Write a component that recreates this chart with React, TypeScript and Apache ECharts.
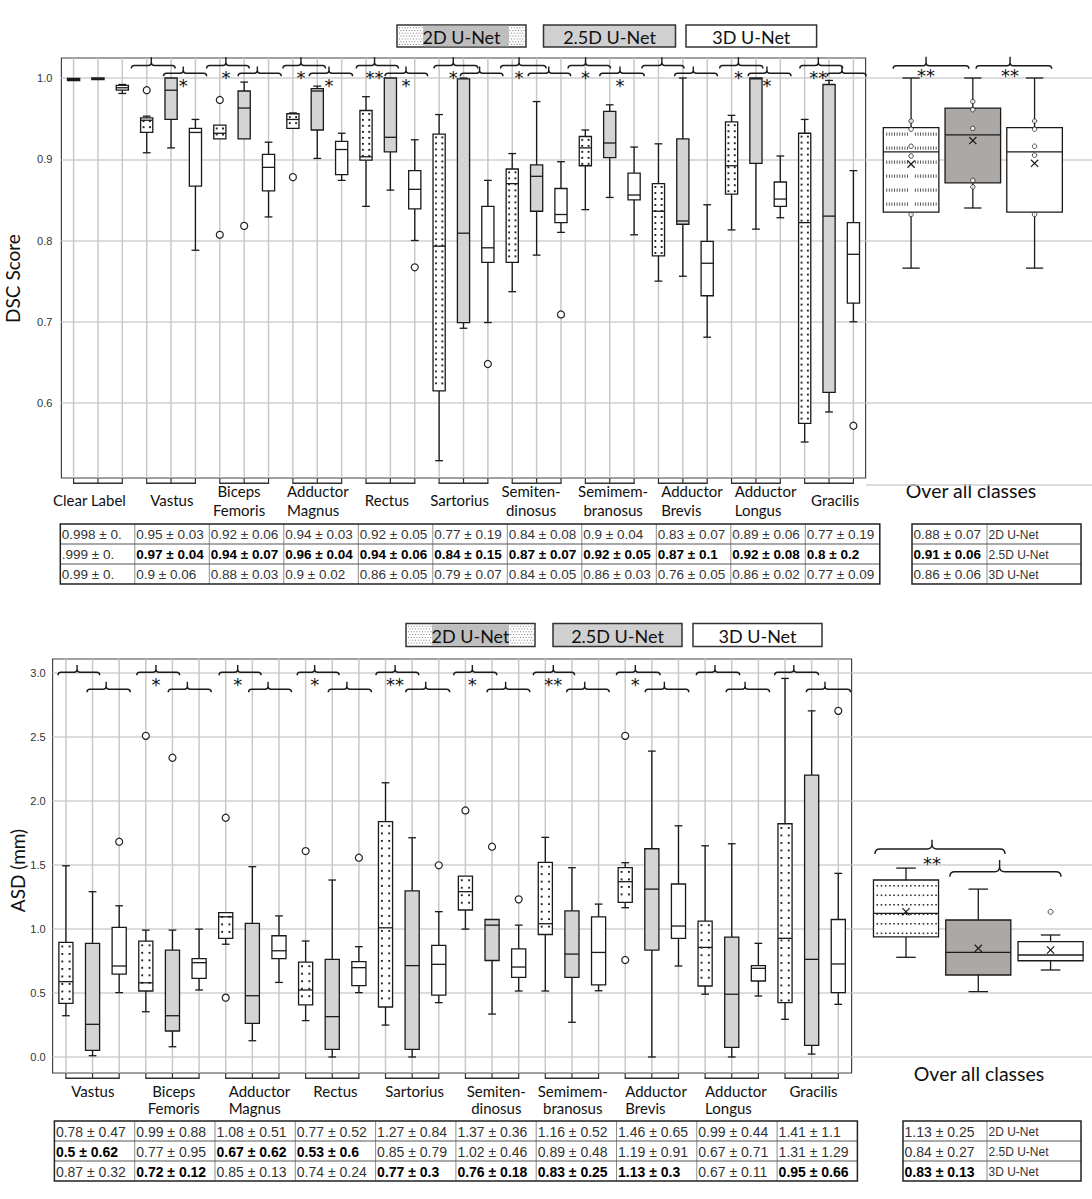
import React, { useEffect, useRef } from 'react';
import * as echarts from 'echarts';

const PAGE_W = 1092;
const PAGE_H = 1199;
const FONT = 'Lato, "Open Sans", sans-serif';
const TFONT = '"Liberation Sans", Arial, sans-serif';
const STAR_FONT = '"DejaVu Sans", sans-serif';

// ---------------- data ----------------
const modelNames = ['2D U-Net', '2.5D U-Net', '3D U-Net'];

const dscGroups = ['Clear Label', 'Vastus', 'Biceps\nFemoris', 'Adductor\nMagnus', 'Rectus', 'Sartorius', 'Semiten-\ndinosus', 'Semimem-\nbranosus', 'Adductor\nBrevis', 'Adductor\nLongus', 'Gracilis'];
const asdGroups = ['Vastus', 'Biceps\nFemoris', 'Adductor\nMagnus', 'Rectus', 'Sartorius', 'Semiten-\ndinosus', 'Semimem-\nbranosus', 'Adductor\nBrevis', 'Adductor\nLongus', 'Gracilis'];

const dscTicks = [0.6, 0.7, 0.8, 0.9, 1.0];
const dscOverallTicks = [0.5, 0.6, 0.7, 0.8, 0.9, 1.0];
const asdTicks = [0, 0.5, 1.0, 1.5, 2.0, 2.5, 3.0];

// box statistics [low whisker, Q1, median, Q3, high whisker]; order: group x (2D, 2.5D, 3D)
const dscBoxStats = [
  [0.9966, 0.9968, 0.998, 0.9995, 0.9997],
  [0.9978, 0.998, 0.999, 1.0, 1.0],
  [0.981, 0.985, 0.988, 0.991, 0.992],
  [0.908, 0.933, 0.948, 0.951, 0.953],
  [0.914, 0.949, 0.985, 1.0, 1.0],
  [0.788, 0.867, 0.933, 0.938, 0.949],
  [0.925, 0.925, 0.932, 0.942, 0.942],
  [0.925, 0.925, 0.963, 0.984, 0.995],
  [0.829, 0.861, 0.89, 0.906, 0.921],
  [0.938, 0.938, 0.949, 0.956, 0.957],
  [0.901, 0.936, 0.984, 0.987, 0.99],
  [0.874, 0.881, 0.912, 0.922, 0.932],
  [0.842, 0.899, 0.903, 0.96, 0.977],
  [0.862, 0.909, 0.927, 1.0, 1.0],
  [0.8, 0.839, 0.863, 0.886, 0.924],
  [0.529, 0.615, 0.793, 0.931, 0.955],
  [0.692, 0.699, 0.809, 0.999, 1.0],
  [0.699, 0.773, 0.791, 0.842, 0.874],
  [0.737, 0.773, 0.87, 0.888, 0.907],
  [0.782, 0.836, 0.879, 0.893, 0.971],
  [0.81, 0.822, 0.832, 0.864, 0.897],
  [0.838, 0.892, 0.914, 0.928, 0.936],
  [0.853, 0.902, 0.92, 0.959, 0.967],
  [0.807, 0.85, 0.856, 0.883, 0.915],
  [0.75, 0.781, 0.836, 0.87, 0.919],
  [0.756, 0.82, 0.824, 0.925, 1.0],
  [0.681, 0.732, 0.772, 0.799, 0.844],
  [0.813, 0.857, 0.892, 0.946, 0.954],
  [0.814, 0.895, 0.999, 1.0, 1.0],
  [0.828, 0.842, 0.851, 0.872, 0.904],
  [0.552, 0.575, 0.822, 0.932, 0.949],
  [0.589, 0.613, 0.83, 0.992, 0.997],
  [0.7, 0.723, 0.783, 0.822, 0.886],
];
// [box index, value]
const dscOutliers = [[3, 0.985], [6, 0.973], [6, 0.807], [7, 0.818], [9, 0.878], [14, 0.767], [17, 0.648], [20, 0.709], [32, 0.572]];

const dscOverallStats = [
  [0.766, 0.835, 0.909, 0.939, 1.0],
  [0.84, 0.871, 0.93, 0.963, 1.0],
  [0.766, 0.835, 0.909, 0.939, 1.0],
];
const dscOverallMeans = [0.894, 0.923, 0.895];
const dscOverallPoints = [
  [0, 0.947], [0, 0.937], [0, 0.916], [0, 0.904], [0, 0.832],
  [1, 0.971], [1, 0.961], [1, 0.938], [1, 0.874], [1, 0.866],
  [2, 0.947], [2, 0.937], [2, 0.916], [2, 0.905], [2, 0.832],
];

const asdBoxStats = [
  [0.322, 0.419, 0.588, 0.895, 1.492],
  [0.01, 0.052, 0.255, 0.887, 1.29],
  [0.502, 0.647, 0.71, 1.011, 1.18],
  [0.353, 0.515, 0.579, 0.904, 0.99],
  [0.08, 0.203, 0.322, 0.834, 0.99],
  [0.523, 0.613, 0.736, 0.767, 0.998],
  [0.88, 0.926, 1.094, 1.126, 1.126],
  [0.127, 0.262, 0.478, 1.042, 1.485],
  [0.582, 0.768, 0.829, 0.946, 1.101],
  [0.284, 0.406, 0.523, 0.741, 0.905],
  [0.0, 0.06, 0.315, 0.762, 1.381],
  [0.502, 0.557, 0.697, 0.744, 0.861],
  [0.249, 0.39, 1.008, 1.836, 2.14],
  [0.0, 0.06, 0.713, 1.297, 1.711],
  [0.424, 0.483, 0.723, 0.871, 1.134],
  [0.998, 1.147, 1.29, 1.412, 1.412],
  [0.335, 0.753, 1.029, 1.073, 1.073],
  [0.515, 0.622, 0.702, 0.843, 1.029],
  [0.515, 0.956, 1.04, 1.518, 1.714],
  [0.271, 0.622, 0.803, 1.141, 1.477],
  [0.517, 0.562, 0.816, 1.094, 1.193],
  [1.165, 1.207, 1.368, 1.477, 1.516],
  [0.0, 0.834, 1.31, 1.625, 2.387],
  [0.71, 0.926, 1.022, 1.35, 1.804],
  [0.49, 0.554, 0.855, 1.061, 1.648],
  [0.0, 0.075, 0.49, 0.936, 1.664],
  [0.476, 0.593, 0.692, 0.713, 0.887],
  [0.294, 0.424, 0.926, 1.82, 2.954],
  [0.023, 0.091, 0.762, 2.2, 2.701],
  [0.411, 0.502, 0.726, 1.073, 1.433],
];
const asdOutliers = [[2, 1.68], [3, 2.506], [4, 2.335], [6, 0.463], [6, 1.867], [9, 1.607], [11, 1.555], [14, 1.496], [15, 1.924], [16, 1.641], [17, 1.23], [21, 2.506], [21, 0.757], [29, 2.701]];

const asdOverallStats = [
  [0.778, 0.938, 1.121, 1.381, 1.474],
  [0.51, 0.64, 0.817, 1.069, 1.31],
  [0.679, 0.751, 0.796, 0.9, 0.952],
];
const asdOverallMeans = [1.133, 0.848, 0.835];
const asdOverallOutliers = [[2, 1.133]];

// significance marks per group (A: 2D vs 2.5D, B: 2.5D vs 3D)
const dscSigA = ['', '', '*', '*', '**', '*', '*', '*', '', '*', '**'];
const dscSigB = ['', '*', '', '*', '*', '', '', '*', '', '*', ''];
const dscOverallSig = ['**', '**'];
const asdSigA = ['', '*', '*', '*', '**', '*', '**', '*', '', ''];
const asdSigB = ['', '', '', '', '', '', '', '', '', ''];
const asdOverallSig = ['**', ''];

// tables
const dscTable2D = ['0.998 ± 0.', '0.95 ± 0.03', '0.92 ± 0.06', '0.94 ± 0.03', '0.92 ± 0.05', '0.77 ± 0.19', '0.84 ± 0.08', '0.9 ± 0.04', '0.83 ± 0.07', '0.89 ± 0.06', '0.77 ± 0.19'];
const dscTable25D = ['.999 ± 0.', '0.97 ± 0.04', '0.94 ± 0.07', '0.96 ± 0.04', '0.94 ± 0.06', '0.84 ± 0.15', '0.87 ± 0.07', '0.92 ± 0.05', '0.87 ± 0.1', '0.92 ± 0.08', '0.8 ± 0.2'];
const dscTable3D = ['0.99 ± 0.', '0.9 ± 0.06', '0.88 ± 0.03', '0.9 ± 0.02', '0.86 ± 0.05', '0.79 ± 0.07', '0.84 ± 0.05', '0.86 ± 0.03', '0.76 ± 0.05', '0.86 ± 0.02', '0.77 ± 0.09'];
const dscBestRow = [-1, 1, 1, 1, 1, 1, 1, 1, 1, 1, 1];
const dscOverallTable = ['0.88 ± 0.07', '0.91 ± 0.06', '0.86 ± 0.06'];
const dscOverallBest = 1;

const asdTable2D = ['0.78 ± 0.47', '0.99 ± 0.88', '1.08 ± 0.51', '0.77 ± 0.52', '1.27 ± 0.84', '1.37 ± 0.36', '1.16 ± 0.52', '1.46 ± 0.65', '0.99 ± 0.44', '1.41 ± 1.1'];
const asdTable25D = ['0.5 ± 0.62', '0.77 ± 0.95', '0.67 ± 0.62', '0.53 ± 0.6', '0.85 ± 0.79', '1.02 ± 0.46', '0.89 ± 0.48', '1.19 ± 0.91', '0.67 ± 0.71', '1.31 ± 1.29'];
const asdTable3D = ['0.87 ± 0.32', '0.72 ± 0.12', '0.85 ± 0.13', '0.74 ± 0.24', '0.77 ± 0.3', '0.76 ± 0.18', '0.83 ± 0.25', '1.13 ± 0.3', '0.67 ± 0.11', '0.95 ± 0.66'];
const asdBestRow = [1, 2, 1, 1, 2, 2, 2, 2, -1, 2];
const asdOverallTable = ['1.13 ± 0.25', '0.84 ± 0.27', '0.83 ± 0.13'];
const asdOverallBest = 2;

// ---------------- layout (annotation geometry, in box-index units / px) ----------------
const dscBraceLayout = [
  null,
  [2.37, 4.17, 3.19, 3.69, 5.46, 4.5],
  [5.46, 7.21, 6.25, 6.75, 8.52, 7.54],
  [8.59, 10.34, 9.33, 9.67, 11.45, 10.48],
  [11.6, 13.33, 12.35, 12.78, 14.53, 13.64],
  [14.79, 16.59, 15.58, 15.87, 17.62, 16.66],
  [17.52, 19.39, 18.28, 18.65, 20.4, 19.5],
  [20.29, 22.03, 21.01, 21.59, 23.42, 22.42],
  [23.32, 25.05, 24.14, 24.66, 26.42, 25.43],
  [26.51, 28.29, 27.28, 27.68, 29.44, 28.45],
  [29.8, 31.56, 30.56, 30.92, 32.52, 31.53],
];
const asdBraceLayout = [
  [-0.3, 1.27, 0.42, 0.79, 2.42, 1.51],
  [2.66, 4.27, 3.38, 3.84, 5.46, 4.56],
  [5.75, 7.33, 6.45, 6.86, 8.47, 7.59],
  [8.68, 10.26, 9.34, 9.85, 11.47, 10.55],
  [11.64, 13.25, 12.36, 12.76, 14.41, 13.51],
  [14.56, 16.18, 15.26, 15.81, 17.42, 16.51],
  [17.55, 19.1, 18.3, 18.8, 20.4, 19.48],
  [20.67, 22.31, 21.38, 21.75, 23.39, 22.47],
  [23.67, 25.3, 24.37, 24.79, 26.42, 25.5],
  [26.61, 28.26, 27.33, 27.8, 29.46, 28.5],
];
const dscOverallBraceLayout = [[-0.29, 0.936, 0.243], [1.053, 2.277, 1.603]];
const asdOverallBraceLayout = [[-0.43, 1.37, 0.36], [0.606, 2.144, 1.295]];

const dscLabelAnchors: [number, string][] = [[0.65, 'center'], [4.03, 'center'], [6.79, 'center'], [8.76, 'left'], [12.86, 'center'], [15.84, 'center'], [18.77, 'center'], [22.14, 'center'], [24.11, 'left'], [27.13, 'left'], [31.25, 'center']];
const asdLabelAnchors: [number, string][] = [[1.01, 'center'], [4.05, 'center'], [6.11, 'left'], [10.12, 'center'], [13.09, 'center'], [16.16, 'center'], [19.03, 'center'], [21.0, 'left'], [24.0, 'left'], [28.07, 'center']];

// ---------------- render helpers ----------------
const INK = '#1a1a1a';

function seg(x1: number, y1: number, x2: number, y2: number, stroke = INK, lw = 1.3) {
  return { type: 'line', shape: { x1, y1, x2, y2 }, style: { stroke, lineWidth: lw } };
}
function dot(x: number, y: number, w: number, h: number, fill = '#333') {
  return { type: 'rect', shape: { x, y, width: w, height: h }, style: { fill } };
}

interface BoxCfg { boxFrac: number; capFrac: number; vgrid: boolean; fills: string[]; pattern: string; dotDy: number; }

function makeBoxRenderer(cfg: BoxCfg) {
  return (params: any, api: any) => {
    const xv = api.value(0);
    const lo = api.value(1), q1 = api.value(2), md = api.value(3), q3 = api.value(4), hi = api.value(5);
    const kind = api.value(6);
    const mean = api.value(7);
    const cs = params.coordSys;
    const unit = api.size([1, 0])[0];
    const bw = unit * cfg.boxFrac;
    const cw = unit * cfg.capFrac;
    const cx = api.coord([xv, md])[0];
    const yv = (v: number) => api.coord([xv, v])[1];
    const yLo = yv(lo), yQ1 = yv(q1), yMd = yv(md), yQ3 = yv(q3), yHi = yv(hi);
    const ch: any[] = [];
    if (cfg.vgrid) ch.push(seg(cx, cs.y, cx, cs.y + cs.height, '#c8c8c8', 1.5));
    if (yQ3 - yHi > 0.5) { ch.push(seg(cx, yHi, cx, yQ3)); ch.push(seg(cx - cw / 2, yHi, cx + cw / 2, yHi)); }
    if (yLo - yQ1 > 0.5) { ch.push(seg(cx, yQ1, cx, yLo)); ch.push(seg(cx - cw / 2, yLo, cx + cw / 2, yLo)); }
    const left = cx - bw / 2;
    const top = yQ3;
    const h = Math.max(yQ1 - yQ3, 1.2);
    ch.push({ type: 'rect', shape: { x: left, y: top, width: bw, height: h }, style: { fill: cfg.fills[kind], stroke: INK, lineWidth: 1.3 } });
    if (kind === 0 && h > 4) {
      if (cfg.pattern === 'dots2') {
        for (let yy = top + cfg.dotDy * 0.55; yy < top + h - 1.8; yy += cfg.dotDy) {
          for (const ox of [-bw * 0.26, bw * 0.26]) ch.push(dot(cx + ox - 0.9, yy - 0.9, 1.9, 1.9, '#222'));
        }
      } else if (cfg.pattern === 'dashRows') {
        for (let yy = top + 5; yy < top + h - 4; yy += cfg.dotDy) {
          for (let xx = left + 3; xx < left + bw - 2.5; xx += 2.6) {
            if (Math.abs(xx - cx) < 3) continue;
            ch.push(dot(xx, yy, 0.9, 3.2, '#444'));
          }
        }
      } else if (cfg.pattern === 'dotRows') {
        for (let yy = top + 5; yy < top + h - 2; yy += cfg.dotDy) {
          for (let xx = left + 3; xx < left + bw - 2; xx += 4.2) ch.push(dot(xx, yy, 1.6, 1.6, '#333'));
        }
      }
    }
    ch.push(seg(left, yMd, left + bw, yMd));
    if (mean > -100) {
      const ym = yv(mean);
      const s = 3.6;
      ch.push(seg(cx - s, ym - s, cx + s, ym + s, INK, 1.2));
      ch.push(seg(cx - s, ym + s, cx + s, ym - s, INK, 1.2));
    }
    return { type: 'group', children: ch };
  };
}

function makeGroupRenderer(labels: string[], anchors: [number, string][], opt: { tick: number; textY: number; vAlign: string; lineHeight: number }) {
  return (params: any, api: any) => {
    const g = api.value(0);
    const cs = params.coordSys;
    const yb = cs.y + cs.height;
    const xs = [0, 1, 2].map((k) => api.coord([g * 3 + k, 0])[0]);
    const ch: any[] = xs.map((x) => seg(x, yb, x, yb + opt.tick, '#333', 1.2));
    ch.push(seg(xs[0] - 0.6, yb + opt.tick, xs[2] + 0.6, yb + opt.tick, '#333', 1.6));
    const a = anchors[g];
    const tx = api.coord([a[0], 0])[0];
    ch.push({
      type: 'text', x: tx, y: opt.textY,
      style: { text: labels[g], fontSize: 15, fontFamily: FONT, fill: '#111', align: a[1], textAlign: a[1], verticalAlign: opt.vAlign, textVerticalAlign: opt.vAlign, lineHeight: opt.lineHeight },
    });
    return { type: 'group', children: ch };
  };
}

function makeBraceRenderer(curl: number) {
  return (params: any, api: any) => {
    const cs = params.coordSys;
    const x1 = api.coord([api.value(0), 0])[0];
    const x2 = api.coord([api.value(1), 0])[0];
    const xp = api.coord([api.value(2), 0])[0];
    const yh = cs.y + api.value(3);
    const sp = api.value(4);
    const r = curl;
    const d = `M${x1} ${yh + r} Q${x1} ${yh} ${x1 + r} ${yh} L${xp - r} ${yh} Q${xp} ${yh} ${xp} ${yh - r} L${xp} ${yh - sp} M${xp} ${yh - r} Q${xp} ${yh} ${xp + r} ${yh} L${x2 - r} ${yh} Q${x2} ${yh} ${x2} ${yh + r}`;
    return { type: 'path', shape: { pathData: d }, style: { fill: 'none', stroke: INK, lineWidth: 1.4 } };
  };
}

function makeStarRenderer(texts: string[]) {
  return (params: any, api: any) => {
    const cs = params.coordSys;
    const x = api.coord([api.value(0), 0])[0];
    const y = cs.y + api.value(1) + 5;
    return {
      type: 'text', x, y,
      style: { text: texts[params.dataIndex], fontSize: 18, fontFamily: STAR_FONT, fill: '#111', align: 'center', textAlign: 'center', verticalAlign: 'middle', textVerticalAlign: 'middle' },
    };
  };
}

function txt(x: number, y: number, text: string, size: number, opts: any = {}) {
  const align = opts.align || 'center';
  const va = opts.va || 'middle';
  return {
    type: 'text', x, y, rotation: opts.rotation || 0, silent: true,
    style: {
      text, fontSize: size, fontFamily: opts.family || FONT, fontWeight: opts.weight || 'normal', fill: opts.fill || '#111',
      align, textAlign: align, verticalAlign: va, textVerticalAlign: va,
    },
  };
}

function legendEls(y: number, h: number, boxes: number[][], gray: number[]) {
  const els: any[] = [];
  const [a0, a1] = boxes[0];
  els.push({ type: 'rect', silent: true, shape: { x: a0, y, width: a1 - a0, height: h }, style: { fill: '#fff', stroke: '#333', lineWidth: 1.5 } });
  let row = 0;
  for (let yy = y + 2.2; yy < y + h - 1.5; yy += 2.8, row++) {
    for (let xx = a0 + 2 + (row % 2) * 1.4; xx < a1 - 1.5; xx += 2.8) {
      if (xx > gray[0] - 1 && xx < gray[1]) continue;
      els.push({ type: 'rect', silent: true, shape: { x: xx, y: yy, width: 1, height: 1 }, style: { fill: '#808080' } });
    }
  }
  els.push({ type: 'rect', silent: true, shape: { x: gray[0], y: y + 0.8, width: gray[1] - gray[0], height: h - 1.6 }, style: { fill: '#bebebe' } });
  els.push({ type: 'rect', silent: true, shape: { x: boxes[1][0], y, width: boxes[1][1] - boxes[1][0], height: h }, style: { fill: '#d0d0d0', stroke: '#333', lineWidth: 1.5 } });
  els.push({ type: 'rect', silent: true, shape: { x: boxes[2][0], y, width: boxes[2][1] - boxes[2][0], height: h }, style: { fill: '#fff', stroke: '#333', lineWidth: 1.5 } });
  boxes.forEach((b, i) => els.push(txt((b[0] + b[1]) / 2, y + h / 2 + 0.5, modelNames[i], 18)));
  return els;
}

function tableEls(colXs: number[], y0: number, rowH: number, cells: string[][], isBold: (r: number, c: number) => boolean, sizes: number[]) {
  const els: any[] = [];
  const nR = cells.length;
  const nC = colXs.length - 1;
  const x0 = colXs[0], x1 = colXs[nC], y1 = y0 + nR * rowH;
  for (let c = 1; c < nC; c++) els.push({ type: 'line', silent: true, shape: { x1: colXs[c], y1: y0, x2: colXs[c], y2: y1 }, style: { stroke: '#8c8c8c', lineWidth: 1 } });
  for (let r = 1; r < nR; r++) els.push({ type: 'line', silent: true, shape: { x1: x0, y1: y0 + r * rowH, x2: x1, y2: y0 + r * rowH }, style: { stroke: '#555', lineWidth: 1 } });
  els.push({ type: 'rect', silent: true, shape: { x: x0, y: y0, width: x1 - x0, height: y1 - y0 }, style: { fill: 'none', stroke: '#222', lineWidth: 1.5 } });
  for (let r = 0; r < nR; r++) {
    for (let c = 0; c < nC; c++) {
      const b = isBold(r, c);
      els.push(txt(colXs[c] + 1.5, y0 + r * rowH + rowH / 2 + 0.5, cells[r][c], sizes[c], { align: 'left', family: TFONT, weight: b ? 'bold' : 'normal', fill: b ? '#000' : '#333' }));
    }
  }
  return els;
}

// ---------------- option ----------------
function buildOption() {
  const dscBoxData = dscBoxStats.map((s, i) => [i, s[0], s[1], s[2], s[3], s[4], i % 3, -999]);
  const dscOverallData = dscOverallStats.map((s, i) => [i, s[0], s[1], s[2], s[3], s[4], i, dscOverallMeans[i]]);
  const asdBoxData = asdBoxStats.map((s, i) => [i, s[0], s[1], s[2], s[3], s[4], i % 3, -999]);
  const asdOverallData = asdOverallStats.map((s, i) => [i, s[0], s[1], s[2], s[3], s[4], i, asdOverallMeans[i]]);

  // brace geometry offsets (px below grid top)
  const TOP = { aY: 7.5, bY: 15.3, aSp: 8.2, bSp: 6.8, aStar: 14.3, bStar: 22 };
  const BOT = { aY: 13.3, bY: 30.3, aSp: 7.3, bSp: 7.6, aStar: 20.3, bStar: 36 };

  const dscBraces: number[][] = [];
  const dscStarPos: number[][] = [];
  const dscStarText: string[] = [];
  dscBraceLayout.forEach((L, g) => {
    if (!L) return;
    dscBraces.push([L[0], L[1], L[2], TOP.aY, TOP.aSp]);
    dscBraces.push([L[3], L[4], L[5], TOP.bY, TOP.bSp]);
    if (dscSigA[g]) { dscStarPos.push([L[2], TOP.aStar]); dscStarText.push(dscSigA[g]); }
    if (dscSigB[g]) { dscStarPos.push([L[5], TOP.bStar]); dscStarText.push(dscSigB[g]); }
  });
  const asdBraces: number[][] = [];
  const asdStarPos: number[][] = [];
  const asdStarText: string[] = [];
  asdBraceLayout.forEach((L, g) => {
    asdBraces.push([L[0], L[1], L[2], BOT.aY, BOT.aSp]);
    asdBraces.push([L[3], L[4], L[5], BOT.bY, BOT.bSp]);
    if (asdSigA[g]) { asdStarPos.push([L[2], BOT.aStar]); asdStarText.push(asdSigA[g]); }
    if (asdSigB[g]) { asdStarPos.push([L[5], BOT.bStar]); asdStarText.push(asdSigB[g]); }
  });
  const dscOvBraces = dscOverallBraceLayout.map((L) => [L[0], L[1], L[2], 7.7, 9]);
  const dscOvStarPos: number[][] = [];
  const dscOvStarText: string[] = [];
  dscOverallBraceLayout.forEach((L, i) => { if (dscOverallSig[i]) { dscOvStarPos.push([L[2], 12]); dscOvStarText.push(dscOverallSig[i]); } });
  const asdOvOffsets = [[190, 9.3], [212.7, 11.7]];
  const asdOvBraces = asdOverallBraceLayout.map((L, i) => [L[0], L[1], L[2], asdOvOffsets[i][0], asdOvOffsets[i][1]]);
  const asdOvStarPos: number[][] = [];
  const asdOvStarText: string[] = [];
  asdOverallBraceLayout.forEach((L, i) => { if (asdOverallSig[i]) { asdOvStarPos.push([L[2], 199]); asdOvStarText.push(asdOverallSig[i]); } });

  const mainFills = ['#ffffff', '#d4d4d4', '#ffffff'];
  const ovFills = ['#ffffff', '#aba8a6', '#ffffff'];

  const splitLine = (show: boolean) => ({ show, lineStyle: { color: '#d0d0d0', width: 1.5 } });
  const yAxisBase = (gridIndex: number, min: number, max: number, ticks: number[], labels: boolean, margin: number) => ({
    gridIndex, type: 'value', min, max,
    axisLine: { show: false },
    axisTick: { show: false, customValues: ticks },
    axisLabel: { show: labels, customValues: ticks, formatter: (v: number) => v.toFixed(1), fontSize: 11, color: '#333', fontFamily: TFONT, margin },
    splitLine: splitLine(true),
  });

  const hiddenX = (gridIndex: number, min: number, max: number) => ({
    gridIndex, type: 'value', min, max, show: false,
    axisLine: { show: false }, axisTick: { show: false }, axisLabel: { show: false }, splitLine: { show: false },
  });

  const scatterStyle = (size: number) => ({
    type: 'scatter', symbol: 'circle', symbolSize: size, silent: true, z: 6,
    itemStyle: { color: '#fff', borderColor: '#222', borderWidth: 1.2, opacity: 1 },
  });

  const graphics: any[] = [];
  graphics.push(...legendEls(25, 22, [[397, 526], [543.5, 675.5], [686, 816.6]], [423, 509]));
  graphics.push(...legendEls(623.5, 23, [[406, 535], [553, 682], [693, 822]], [432, 509]));
  graphics.push(txt(12.5, 278.5, 'DSC Score', 19, { rotation: Math.PI / 2 }));
  graphics.push(txt(17, 870.5, 'ASD (mm)', 19, { rotation: Math.PI / 2 }));
  graphics.push(txt(971, 490, 'Over all classes', 19.5));
  graphics.push(txt(979, 1073, 'Over all classes', 19.5));

  const dscCols = Array.from({ length: 12 }, (_, i) => 60.3 + i * 74.5);
  const dscCells = [dscTable2D, dscTable25D, dscTable3D];
  graphics.push(...tableEls(dscCols, 524, 20, dscCells, (r, c) => dscBestRow[c] === r, dscCols.slice(1).map(() => 13.5)));
  graphics.push(...tableEls([912, 987, 1081], 524, 20, dscOverallTable.map((t, i) => [t, modelNames[i]]), (r, c) => c === 0 && r === dscOverallBest, [13.5, 12]));

  const asdCols = Array.from({ length: 11 }, (_, i) => 54.4 + i * 80.3);
  const asdCells = [asdTable2D, asdTable25D, asdTable3D];
  graphics.push(...tableEls(asdCols, 1121, 20, asdCells, (r, c) => asdBestRow[c] === r, asdCols.slice(1).map(() => 14)));
  graphics.push(...tableEls([903, 987, 1081], 1121, 20, asdOverallTable.map((t, i) => [t, modelNames[i]]), (r, c) => c === 0 && r === asdOverallBest, [14, 12]));

  return {
    animation: false,
    backgroundColor: '#ffffff',
    grid: [
      { left: 61.4, top: 58, width: 804.2, height: 420, show: true, borderColor: '#444', borderWidth: 1.2, backgroundColor: 'transparent' },
      { left: 866, top: 58, width: 226, height: 428, show: false },
      { left: 52.6, top: 659, width: 799, height: 414, show: true, borderColor: '#444', borderWidth: 1.2, backgroundColor: 'transparent' },
      { left: 852, top: 659, width: 240, height: 414, show: false },
    ],
    xAxis: [
      hiddenX(0, -0.5, 32.5),
      hiddenX(1, -0.73, 2.93),
      hiddenX(2, -0.5, 29.5),
      hiddenX(3, -0.747, 2.573),
    ],
    yAxis: [
      yAxisBase(0, 0.50769, 1.02462, dscTicks, true, 9),
      yAxisBase(1, 0.49785, 1.02462, dscOverallTicks, false, 8),
      yAxisBase(2, -0.1249, 3.1057, asdTicks, true, 7),
      yAxisBase(3, -0.1249, 3.1057, asdTicks, false, 7),
    ],
    series: [
      { type: 'custom', name: 'dscBoxes', xAxisIndex: 0, yAxisIndex: 0, clip: false, silent: true, z: 2, data: dscBoxData,
        renderItem: makeBoxRenderer({ boxFrac: 0.5, capFrac: 0.32, vgrid: true, fills: mainFills, pattern: 'dots2', dotDy: 6 }) },
      { ...scatterStyle(7), name: 'dscOutliers', xAxisIndex: 0, yAxisIndex: 0, data: dscOutliers },
      { type: 'custom', name: 'dscGroups', xAxisIndex: 0, yAxisIndex: 0, clip: false, silent: true, z: 3, data: dscGroups.map((_, g) => [g]),
        renderItem: makeGroupRenderer(dscGroups, dscLabelAnchors, { tick: 5.3, textY: 500, vAlign: 'middle', lineHeight: 19 }) },
      { type: 'custom', name: 'dscBraces', xAxisIndex: 0, yAxisIndex: 0, clip: false, silent: true, z: 4, data: dscBraces, renderItem: makeBraceRenderer(3) },
      { type: 'custom', name: 'dscStars', xAxisIndex: 0, yAxisIndex: 0, clip: false, silent: true, z: 4, data: dscStarPos, renderItem: makeStarRenderer(dscStarText) },

      { type: 'custom', name: 'dscOverall', xAxisIndex: 1, yAxisIndex: 1, clip: false, silent: true, z: 2, data: dscOverallData,
        renderItem: makeBoxRenderer({ boxFrac: 0.9, capFrac: 0.28, vgrid: false, fills: ovFills, pattern: 'dashRows', dotDy: 14 }) },
      { ...scatterStyle(4.5), name: 'dscOverallPts', xAxisIndex: 1, yAxisIndex: 1, data: dscOverallPoints, itemStyle: { color: '#fff', borderColor: '#222', borderWidth: 1 } },
      { type: 'custom', name: 'dscOvBraces', xAxisIndex: 1, yAxisIndex: 1, clip: false, silent: true, z: 4, data: dscOvBraces, renderItem: makeBraceRenderer(3) },
      { type: 'custom', name: 'dscOvStars', xAxisIndex: 1, yAxisIndex: 1, clip: false, silent: true, z: 4, data: dscOvStarPos, renderItem: makeStarRenderer(dscOvStarText) },

      { type: 'custom', name: 'asdBoxes', xAxisIndex: 2, yAxisIndex: 2, clip: false, silent: true, z: 2, data: asdBoxData,
        renderItem: makeBoxRenderer({ boxFrac: 0.53, capFrac: 0.29, vgrid: true, fills: mainFills, pattern: 'dots2', dotDy: 7.5 }) },
      { ...scatterStyle(7), name: 'asdOutliers', xAxisIndex: 2, yAxisIndex: 2, data: asdOutliers },
      { type: 'custom', name: 'asdGroups', xAxisIndex: 2, yAxisIndex: 2, clip: false, silent: true, z: 3, data: asdGroups.map((_, g) => [g]),
        renderItem: makeGroupRenderer(asdGroups, asdLabelAnchors, { tick: 5.3, textY: 1082, vAlign: 'top', lineHeight: 17 }) },
      { type: 'custom', name: 'asdBraces', xAxisIndex: 2, yAxisIndex: 2, clip: false, silent: true, z: 4, data: asdBraces, renderItem: makeBraceRenderer(3) },
      { type: 'custom', name: 'asdStars', xAxisIndex: 2, yAxisIndex: 2, clip: false, silent: true, z: 4, data: asdStarPos, renderItem: makeStarRenderer(asdStarText) },

      { type: 'custom', name: 'asdOverall', xAxisIndex: 3, yAxisIndex: 3, clip: false, silent: true, z: 2, data: asdOverallData,
        renderItem: makeBoxRenderer({ boxFrac: 0.9, capFrac: 0.27, vgrid: false, fills: ovFills, pattern: 'dotRows', dotDy: 9.5 }) },
      { ...scatterStyle(5), name: 'asdOverallOut', xAxisIndex: 3, yAxisIndex: 3, data: asdOverallOutliers, itemStyle: { color: '#fff', borderColor: '#222', borderWidth: 1 } },
      { type: 'custom', name: 'asdOvBraces', xAxisIndex: 3, yAxisIndex: 3, clip: false, silent: true, z: 4, data: asdOvBraces, renderItem: makeBraceRenderer(5) },
      { type: 'custom', name: 'asdOvStars', xAxisIndex: 3, yAxisIndex: 3, clip: false, silent: true, z: 4, data: asdOvStarPos, renderItem: makeStarRenderer(asdOvStarText) },
    ],
    graphic: { elements: graphics },
  };
}

export default function App() {
  const ref = useRef<HTMLDivElement>(null);
  useEffect(() => {
    if (!ref.current) return;
    const chart = echarts.init(ref.current, undefined, { renderer: 'svg' });
    chart.setOption(buildOption() as any);
    return () => { chart.dispose(); };
  }, []);
  return <div ref={ref} style={{ position: 'absolute', left: 0, top: 0, width: PAGE_W, height: PAGE_H, background: '#ffffff' }} />;
}
